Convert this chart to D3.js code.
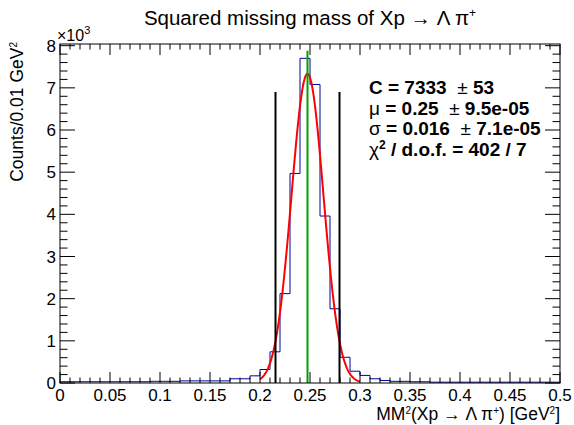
<!DOCTYPE html>
<html>
<head>
<meta charset="utf-8">
<script src="https://cdn.jsdelivr.net/npm/d3@7"></script>
<style>
  body { margin: 0; background: #fff; }
  text { font-family: "Liberation Sans", Arial, sans-serif; }
</style>
</head>
<body>
<div id="chart"></div>
<script>
// bin lower edges (GeV^2), width 0.01
const binEdges = [0.00,0.01,0.02,0.03,0.04,0.05,0.06,0.07,0.08,0.09,
                  0.10,0.11,0.12,0.13,0.14,0.15,0.16,0.17,0.18,0.19,
                  0.20,0.21,0.22,0.23,0.24,0.25,0.26,0.27,0.28,0.29,
                  0.30,0.31,0.32,0.33,0.34,0.35,0.36,0.37,0.38,0.39,
                  0.40,0.41,0.42,0.43,0.44,0.45,0.46,0.47,0.48,0.49];
const counts = [30,30,30,30,30,30,30,30,30,40,
                40,40,50,50,50,50,50,100,100,170,
                320,740,2120,4970,7700,7080,3960,1760,610,280,
                180,100,60,40,40,30,30,20,20,20,
                20,20,20,20,20,20,20,20,20,20];
const fitParams = { C: 7333, mu: 0.2475, sigma: 0.016, from: 0.2, to: 0.3 };
const cutLines = [0.2155, 0.2795];
const cutHeight = 6900;
const meanLine = 0.2475;
const meanHeight = 7880;
const xTicks = [0, 0.05, 0.1, 0.15, 0.2, 0.25, 0.3, 0.35, 0.4, 0.45, 0.5];
const yTicks = [0, 1000, 2000, 3000, 4000, 5000, 6000, 7000, 8000];

const width = 574, height = 425;
const margin = { top: 44, right: 14, bottom: 42, left: 60 };

const svg = d3.select('#chart').append('svg')
  .attr('width', width).attr('height', height);

const x = d3.scaleLinear().domain([0, 0.5]).range([margin.left, width - margin.right]);
const y = d3.scaleLinear().domain([0, 8040]).range([height - margin.bottom, margin.top]);

// histogram as a step outline
const path = d3.path();
path.moveTo(x(0), y(0));
binEdges.forEach((e, i) => {
  path.lineTo(x(e), y(counts[i]));
  path.lineTo(x(e + 0.01), y(counts[i]));
});
path.lineTo(x(0.5), y(0));
svg.append('path')
  .attr('d', path.toString())
  .attr('fill', 'none')
  .attr('stroke', '#0000a0')
  .attr('stroke-width', 1);

// gaussian fit curve
const fx = d3.range(0, 201).map(i => fitParams.from + (fitParams.to - fitParams.from) * i / 200);
const g = v => fitParams.C * Math.exp(-0.5 * Math.pow((v - fitParams.mu) / fitParams.sigma, 2));
svg.append('path')
  .datum(fx)
  .attr('d', d3.line().x(d => x(d)).y(d => y(g(d))))
  .attr('fill', 'none')
  .attr('stroke', '#ff0000')
  .attr('stroke-width', 2);

// cut lines
svg.selectAll('.cut').data(cutLines).join('line')
  .attr('x1', d => x(d)).attr('x2', d => x(d))
  .attr('y1', y(0)).attr('y2', y(cutHeight))
  .attr('stroke', '#000').attr('stroke-width', 2);

svg.append('line')
  .attr('x1', x(meanLine)).attr('x2', x(meanLine))
  .attr('y1', y(0)).attr('y2', y(meanHeight))
  .attr('stroke', '#00a000').attr('stroke-width', 2);

// frame
svg.append('rect')
  .attr('x', margin.left).attr('y', margin.top)
  .attr('width', width - margin.left - margin.right)
  .attr('height', height - margin.top - margin.bottom)
  .attr('fill', 'none').attr('stroke', '#000').attr('stroke-width', 1);

// ticks (inside, both sides)
const xMinor = d3.range(0, 51).map(i => i / 100);
const yMinor = d3.range(0, 41).map(i => i * 200);
const tk = svg.append('g').attr('stroke', '#000').attr('stroke-width', 1);
xMinor.forEach(v => {
  const major = Math.abs(v * 20 - Math.round(v * 20)) < 1e-6;
  const l = major ? 11 : 5.5;
  tk.append('line').attr('x1', x(v)).attr('x2', x(v)).attr('y1', y(0)).attr('y2', y(0) - l);
  tk.append('line').attr('x1', x(v)).attr('x2', x(v)).attr('y1', y.range()[1]).attr('y2', y.range()[1] + l);
});
yMinor.forEach(v => {
  const major = v % 1000 === 0;
  const l = major ? 15 : 7.5;
  tk.append('line').attr('x1', x(0)).attr('x2', x(0) + l).attr('y1', y(v)).attr('y2', y(v));
  tk.append('line').attr('x1', x(0.5)).attr('x2', x(0.5) - l).attr('y1', y(v)).attr('y2', y(v));
});

// tick labels
svg.append('g').selectAll('text').data(xTicks).join('text')
  .attr('x', d => x(d)).attr('y', y(0) + 18)
  .attr('text-anchor', 'middle').attr('font-size', 17)
  .text(d => d === 0 ? '0' : d3.format('')(d));
svg.append('g').selectAll('text').data(yTicks).join('text')
  .attr('x', margin.left - 4).attr('y', d => y(d) + 6)
  .attr('text-anchor', 'end').attr('font-size', 17)
  .text(d => d / 1000);

const ex = svg.append('text').attr('x', 57).attr('y', 41).attr('font-size', 16);
ex.append('tspan').text('\u00d710');
ex.append('tspan').attr('dy', -7).attr('font-size', 11).text('3');

// title
const t = svg.append('text').attr('x', 310).attr('y', 25)
  .attr('text-anchor', 'middle').attr('font-size', 20.5);
t.append('tspan').text('Squared missing mass of Xp \u2192 \u039b \u03c0');
t.append('tspan').attr('dy', -8).attr('font-size', 12).text('+');

// axis titles
const xt = svg.append('text').attr('x', 560).attr('y', 420)
  .attr('text-anchor', 'end').attr('font-size', 17.5);
xt.append('tspan').text('MM');
xt.append('tspan').attr('dy', -6).attr('font-size', 10).text('2');
xt.append('tspan').attr('dy', 6).text('(Xp \u2192 \u039b \u03c0');
xt.append('tspan').attr('dy', -6).attr('font-size', 10).text('+');
xt.append('tspan').attr('dy', 6).text(') [GeV');
xt.append('tspan').attr('dy', -6).attr('font-size', 10).text('2');
xt.append('tspan').attr('dy', 6).text(']');

const yt = svg.append('text')
  .attr('transform', 'translate(23,42) rotate(-90)')
  .attr('text-anchor', 'end').attr('font-size', 17.5);
yt.append('tspan').text('Counts/0.01 GeV');
yt.append('tspan').attr('dy', -6).attr('font-size', 10).text('2');

// fit stats
const stats = [
  [{ t: 'C = 7333  ', b: true }, { t: '\u00b1', b: false }, { t: ' 53', b: true }],
  [{ t: '\u03bc', b: false }, { t: ' = 0.25  ', b: true }, { t: '\u00b1', b: false }, { t: ' 9.5e-05', b: true }],
  [{ t: '\u03c3', b: false }, { t: ' = 0.016  ', b: true }, { t: '\u00b1', b: false }, { t: ' 7.1e-05', b: true }],
  [{ t: '\u03c7', b: false }, { t: '2', b: true, sup: true }, { t: ' / d.o.f. = 402 / 7', b: true }]
];
stats.forEach((row, i) => {
  const tx = svg.append('text').attr('x', 369).attr('y', 94 + i * 20.7)
    .attr('font-size', 19).attr('xml:space', 'preserve').style('white-space', 'pre');
  row.forEach(s => {
    const sp = tx.append('tspan').attr('font-weight', s.b ? 'bold' : 'normal').text(s.t);
    if (s.sup) sp.attr('dy', -7).attr('font-size', 12);
    else if (row.some(r => r.sup) && s !== row[0]) sp.attr('dy', 7);
  });
});
</script>
</body>
</html>
